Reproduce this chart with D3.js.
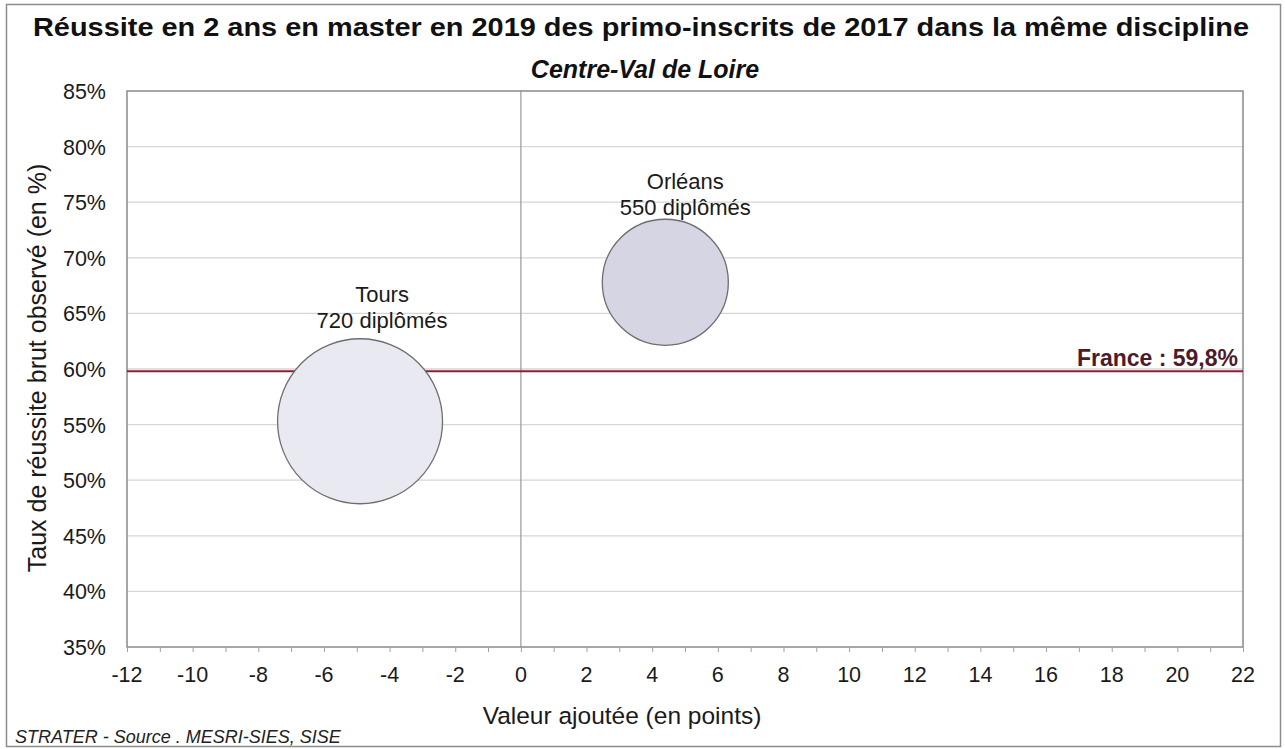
<!DOCTYPE html>
<html lang="fr">
<head>
<meta charset="utf-8">
<script src="https://cdn.jsdelivr.net/npm/d3@7"></script>
<style>
  html, body { margin: 0; padding: 0; background: #fff; }
  svg { display: block; font-family: "Liberation Sans", Arial, sans-serif; }
</style>
</head>
<body>
<svg id="chart" width="1285" height="749"></svg>
<script>
// Universités de la région : valeur ajoutée, taux observé, nombre de diplômés
const universites = ["Tours", "Orléans"];
const valeurAjoutee = [-4.9, 4.4];
const tauxObserve = [55.3, 67.8];
const diplomes = [720, 550];
const couleursBulles = ["#e9e9f1", "#d5d5e3"];

const tauxFrance = 59.8;
const xTicks = [-12, -10, -8, -6, -4, -2, 0, 2, 4, 6, 8, 10, 12, 14, 16, 18, 20, 22];
const yTicks = [35, 40, 45, 50, 55, 60, 65, 70, 75, 80, 85];

const svg = d3.select("#chart");
const W = 1285, H = 749;
const m = { left: 127, right: 1243, top: 91, bottom: 647 };

// Cadre extérieur
svg.append("rect").attr("x", 6.5).attr("y", 4.5).attr("width", W - 11).attr("height", H - 7)
  .attr("fill", "#fff").attr("stroke", "#8c8c8c").attr("stroke-width", 1.5);

const x = d3.scaleLinear().domain([-12, 22]).range([m.left, m.right]);
const y = d3.scaleLinear().domain([35, 85]).range([m.bottom, m.top]);
const r = d3.scaleLinear().domain([0, 720]).range([0, 82.5]);

// Grille horizontale
svg.append("g").selectAll("line").data(yTicks.filter(d => d > 35 && d < 85)).join("line")
  .attr("x1", m.left).attr("x2", m.right)
  .attr("y1", d => y(d)).attr("y2", d => y(d))
  .attr("stroke", "#d6d6d6").attr("stroke-width", 1.3);

// Axe vertical à zéro
svg.append("line").attr("x1", x(0)).attr("x2", x(0)).attr("y1", m.top).attr("y2", m.bottom)
  .attr("stroke", "#9a9a9a").attr("stroke-width", 1.2);

// Cadre de la zone de tracé
svg.append("rect").attr("x", m.left).attr("y", m.top)
  .attr("width", m.right - m.left).attr("height", m.bottom - m.top)
  .attr("fill", "none").attr("stroke", "#8a8a8a").attr("stroke-width", 1.5);

// Axe des abscisses : graduations secondaires à chaque point
const xAxis = d3.axisBottom(x).tickValues(d3.range(-12, 23, 1)).tickSize(5).tickFormat("");
svg.append("g").attr("transform", `translate(0,${m.bottom})`).call(xAxis)
  .call(g => g.select(".domain").remove())
  .call(g => g.selectAll(".tick line").attr("stroke", "#a0a0a0"));

svg.append("g").selectAll("text").data(xTicks).join("text")
  .attr("x", d => x(d)).attr("y", 682)
  .attr("text-anchor", "middle").attr("font-size", 21.5).attr("fill", "#1a1a1a")
  .text(d => d < 0 ? "-" + Math.abs(d) : d);

// Axe des ordonnées
svg.append("g").selectAll("text").data(yTicks).join("text")
  .attr("x", 106).attr("y", d => y(d) + 8)
  .attr("text-anchor", "end").attr("font-size", 21.5).attr("fill", "#1a1a1a")
  .text(d => d + "%");

// Ligne de référence France
svg.append("line").attr("x1", m.left).attr("x2", m.right)
  .attr("y1", y(tauxFrance)).attr("y2", y(tauxFrance))
  .attr("stroke", "#8e1c36").attr("stroke-width", 2);
svg.append("text").attr("x", 1238).attr("y", y(tauxFrance) - 5)
  .attr("text-anchor", "end").attr("font-size", 23).attr("font-weight", "bold")
  .attr("fill", "#4e1a28")
  .text("France : " + String(tauxFrance).replace(".", ",") + "%");

// Bulles
const data = universites.map((u, i) => ({
  nom: u, va: valeurAjoutee[i], taux: tauxObserve[i], n: diplomes[i], fill: couleursBulles[i]
}));
const labelDx = [22, 20];
const labelDy = [11, 4];

svg.append("g").selectAll("circle").data(data).join("circle")
  .attr("cx", d => x(d.va)).attr("cy", d => y(d.taux)).attr("r", d => r(d.n))
  .attr("fill", d => d.fill).attr("stroke", "#6e6e6e").attr("stroke-width", 1.3);

const lab = svg.append("g").selectAll("text").data(data).join("text")
  .attr("text-anchor", "middle").attr("font-size", 22).attr("fill", "#1a1a1a");
lab.append("tspan")
  .attr("x", (d, i) => x(d.va) + labelDx[i])
  .attr("y", (d, i) => y(d.taux) - r(d.n) - labelDy[i] - 26)
  .text(d => d.nom);
lab.append("tspan")
  .attr("x", (d, i) => x(d.va) + labelDx[i])
  .attr("y", (d, i) => y(d.taux) - r(d.n) - labelDy[i])
  .text(d => d.n + " diplômés");

// Titres
svg.append("text").attr("x", 641).attr("y", 36).attr("text-anchor", "middle")
  .attr("font-size", 25).attr("font-weight", "bold").attr("fill", "#111")
  .attr("textLength", 1216).attr("lengthAdjust", "spacingAndGlyphs")
  .text("Réussite en 2 ans en master en 2019 des primo-inscrits de 2017 dans la même  discipline");
svg.append("text").attr("x", 645).attr("y", 78).attr("text-anchor", "middle")
  .attr("font-size", 25).attr("font-weight", "bold").attr("font-style", "italic").attr("fill", "#111")
  .text("Centre-Val de Loire");

// Titres d'axes
svg.append("text").attr("x", 622).attr("y", 724).attr("text-anchor", "middle")
  .attr("font-size", 24.5).attr("fill", "#1a1a1a").text("Valeur ajoutée (en points)");
svg.append("text").attr("transform", "translate(46,368) rotate(-90)").attr("text-anchor", "middle")
  .attr("font-size", 25).attr("fill", "#1a1a1a").text("Taux de réussite brut observé (en %)");

// Source
svg.append("text").attr("x", 15).attr("y", 743)
  .attr("font-size", 18).attr("font-style", "italic").attr("fill", "#222")
  .text("STRATER - Source . MESRI-SIES, SISE");
</script>
</body>
</html>
